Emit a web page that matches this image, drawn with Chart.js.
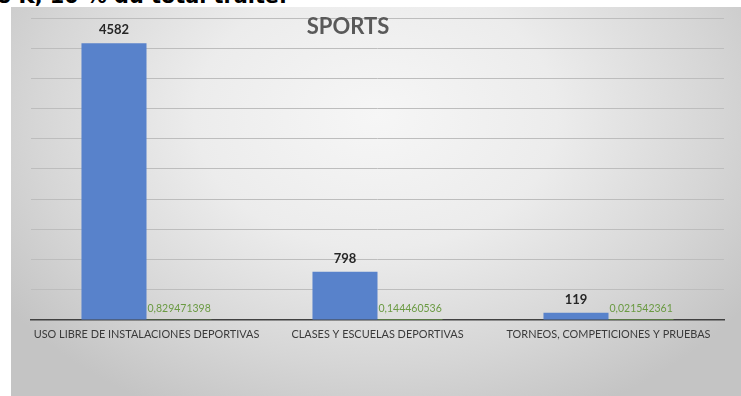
<!DOCTYPE html>
<html lang="es">
<head>
<meta charset="utf-8">
<title>Sports</title>
<script src="https://cdn.jsdelivr.net/npm/chart.js@4.4.1/dist/chart.umd.min.js"></script>
<style>
  html, body { margin: 0; padding: 0; background: #fff; }
  body { width: 741px; height: 396px; position: relative; overflow: hidden; }
  #textoSuperior {
    position: absolute; left: -3px; top: -16px;
    font: bold 20.8px "DejaVu Sans", sans-serif; line-height: 24px;
    color: #000; white-space: nowrap;
  }
  #panel {
    position: absolute; left: 11px; top: 7px; width: 730px; height: 389px;
    background: radial-gradient(ellipse 62% 85% at 50% 28%, #f6f6f6 0%, #ececec 40%, #d6d6d6 75%, #c4c4c4 100%);
  }
  #chartSports { display: block; }
</style>
</head>
<body>
<div id="textoSuperior">o K, 10 % du total traité.</div>
<div id="panel">
  <canvas id="chartSports" width="730" height="389"></canvas>
</div>
<script>
// Datos
const categorias = [
  "USO LIBRE DE INSTALACIONES DEPORTIVAS",
  "CLASES Y ESCUELAS DEPORTIVAS",
  "TORNEOS, COMPETICIONES Y PRUEBAS",
];
const totales = [4582, 798, 119];
const proporciones = [0.829471398, 0.144460536, 0.021542361];
const tituloGrafica = "SPORTS";

// Formato con coma decimal
function formatoDecimal(v) {
  return String(v).replace(".", ",");
}

// Etiquetas de valor sobre las barras
const etiquetasPlugin = {
  id: "etiquetas",
  afterDatasetsDraw(chart) {
    const ctx = chart.ctx;
    const base = chart.scales.y.getPixelForValue(0);
    ctx.save();

    chart.getDatasetMeta(0).data.forEach((bar, i) => {
      ctx.font = "bold 13px Lato, sans-serif";
      ctx.fillStyle = "#262626";
      ctx.textAlign = "center";
      ctx.textBaseline = "middle";
      ctx.fillText(totales[i], bar.x, bar.y - 13);
    });

    chart.getDatasetMeta(1).data.forEach((bar, i) => {
      ctx.font = "10.5px Lato, sans-serif";
      ctx.fillStyle = "#6a9a42";
      ctx.textAlign = "left";
      ctx.textBaseline = "middle";
      ctx.fillText(formatoDecimal(proporciones[i]), bar.x - bar.width / 2 + 1, base - 11);
    });

    // Título
    ctx.font = "bold 22px Lato, sans-serif";
    ctx.fillStyle = "#595959";
    ctx.textAlign = "center";
    ctx.textBaseline = "middle";
    ctx.fillText(tituloGrafica, 337, 20);
    ctx.restore();
  },
};

const grafica = new Chart(document.getElementById("chartSports"), {
  type: "bar",
  data: {
    labels: categorias,
    datasets: [
      {
        label: "Total",
        data: totales,
        backgroundColor: "#5882cb",
        categoryPercentage: 0.563,
        barPercentage: 1,
      },
      {
        label: "Proporción",
        data: proporciones,
        backgroundColor: "#70ad47",
        categoryPercentage: 0.563,
        barPercentage: 1,
      },
    ],
  },
  options: {
    responsive: false,
    animation: false,
    layout: { padding: { left: 20, right: 17, top: 11, bottom: 47 } },
    plugins: {
      legend: { display: false },
      title: { display: false },
      tooltip: { enabled: false },
    },
    scales: {
      x: {
        grid: { display: false, tickLength: 0 },
        border: { color: "#404040", width: 1.5 },
        ticks: {
          color: "#3a3a3a",
          font: { family: "Lato", size: 10.9 },
          padding: 8,
          maxRotation: 0,
          autoSkip: false,
        },
      },
      y: {
        min: 0,
        max: 5000,
        ticks: { stepSize: 500, display: false },
        grid: { color: "#bdbdbd", lineWidth: 1, drawTicks: false },
        border: { display: false },
      },
    },
  },
  plugins: [etiquetasPlugin],
});
</script>
</body>
</html>
